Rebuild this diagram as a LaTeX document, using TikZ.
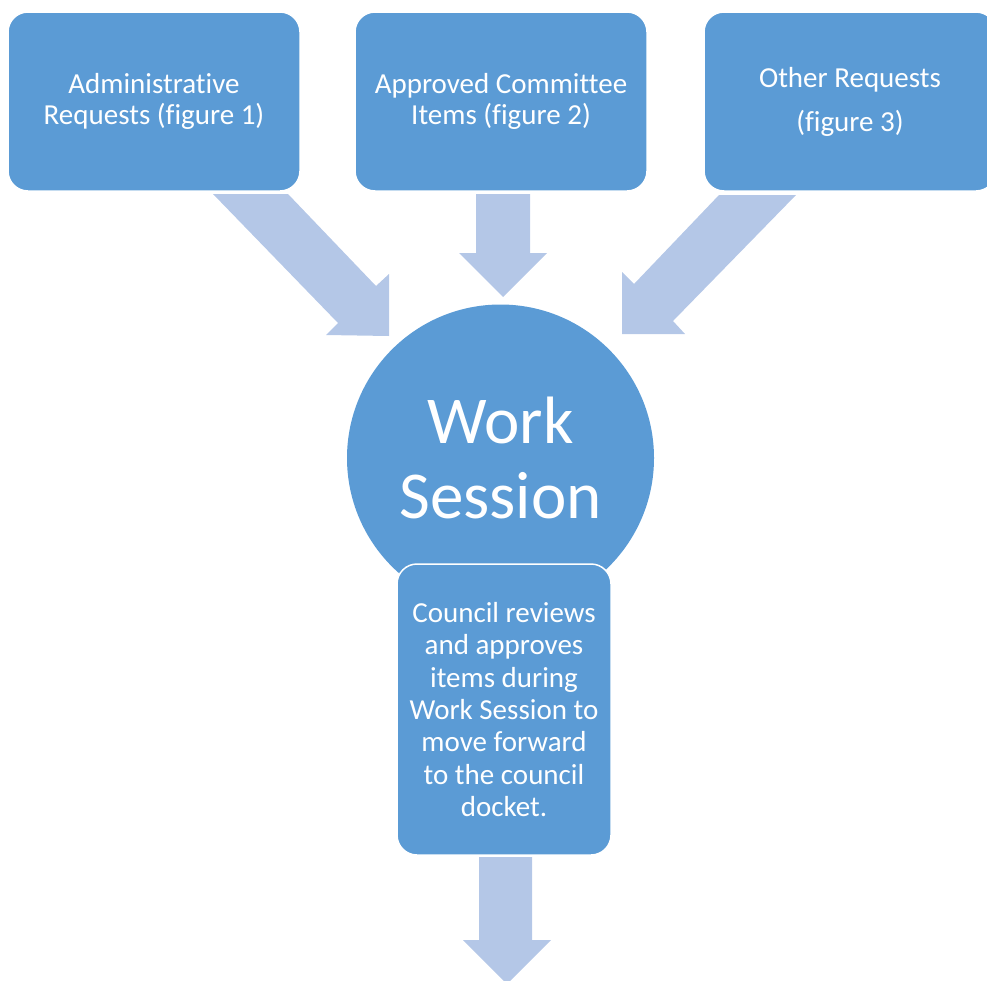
\documentclass[tikz,border=0pt]{standalone}
\usepackage{fontspec}
\setmainfont[Ligatures=NoCommon]{Carlito}

\definecolor{boxblue}{HTML}{5B9BD5}
\definecolor{arrowblue}{HTML}{B4C7E7}

\tikzset{
  reqbox/.style={rectangle, rounded corners=20pt, fill=boxblue, draw=white,
    line width=1.5pt, minimum width=292pt, minimum height=179pt,
    text=white, align=center, font=\fontsize{29}{31.5}\selectfont},
  blockarrow/.style={fill=arrowblue, draw=none}
}

\begin{document}
\begin{tikzpicture}[x=1pt, y=-1pt]

      \useasboundingbox (0,0) rectangle (987,980);
      \clip (0,0) rectangle (987,980);

      % requests
      \node[reqbox] (admin) at (154,101.5) {Administrative\\Requests (figure 1)};
      \node[reqbox] (committee) at (501,101.5) {Approved Committee\\Items (figure 2)};
      \node[reqbox, font=\fontsize{29}{44}\selectfont] (other) at (850,101.5) {Other Requests\\(figure 3)};

      % arrows into the work session
      \fill[blockarrow] (213,194) -- (288,194) -- (376,286) -- (389,274)
        -- (389,336) -- (326,335) -- (338,323) -- cycle;
      \fill[blockarrow] (476,194) -- (530,194) -- (530,253) -- (547,253)
        -- (503,297) -- (459,253) -- (476,253) -- cycle;
      \fill[blockarrow] (719,195) -- (796,195) -- (673,321) -- (685,334)
        -- (622,334) -- (622,272) -- (634,284) -- cycle;

      \node[circle, fill=boxblue, minimum size=307pt, inner sep=0pt, text=white,
        align=center, font=\fontsize{67}{75}\selectfont] (session) at (500.5,458) {Work\\Session};

      \node[reqbox, minimum width=214pt, minimum height=291pt,
        font=\fontsize{29}{32.3}\selectfont] (council) at (504,709.5)
        {Council reviews\\and approves\\items during\\Work Session to\\move forward\\to the council\\docket.};

      % on to the docket
      \fill[blockarrow] (479,857) -- (532,857) -- (532,940) -- (551,940)
        -- (507,984) -- (463,940) -- (479,940) -- cycle;

\end{tikzpicture}
\end{document}
